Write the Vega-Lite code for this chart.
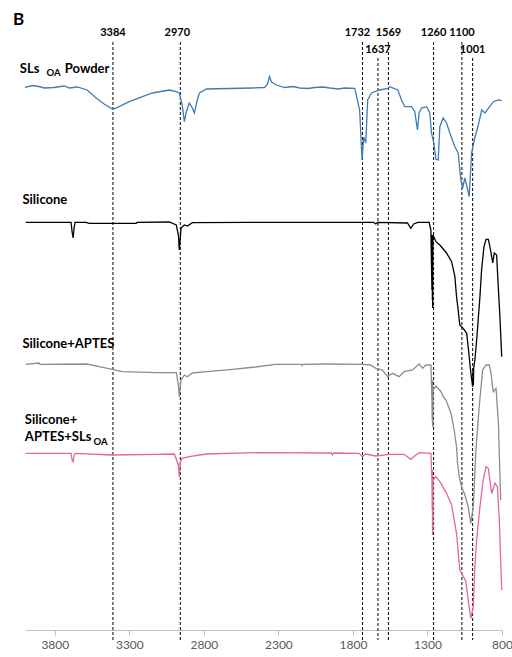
{
 "$schema": "https://vega.github.io/schema/vega-lite/v6.json",
 "width": 477, "height": 630,
 "autosize": {"type": "none"},
 "padding": {"left": 25, "top": 0, "right": 10, "bottom": 27},
 "background": "white",
 "config": {"view": {"stroke": null}, "font": "Lato",
  "axis": {"grid": false, "domainColor": "#bfbfbf", "tickColor": "#bfbfbf", "tickSize": 5, "labelColor": "#595959", "labelFontSize": 12, "labelFont": "Lato", "labelPadding": 4, "labelFlush": false, "labelOverlap": false}},
 "datasets": {
  "spectra": [
   {"series":"SLs OA Powder","wn":4000,"t":542.7},{"series":"SLs OA Powder","wn":3950,"t":544.5},{"series":"SLs OA Powder","wn":3906,"t":543.5},{"series":"SLs OA Powder","wn":3870,"t":542},{"series":"SLs OA Powder","wn":3805,"t":542.5},{"series":"SLs OA Powder","wn":3738,"t":544},{"series":"SLs OA Powder","wn":3700,"t":542},{"series":"SLs OA Powder","wn":3650,"t":543},{"series":"SLs OA Powder","wn":3583,"t":540},{"series":"SLs OA Powder","wn":3523,"t":532},{"series":"SLs OA Powder","wn":3469,"t":526},{"series":"SLs OA Powder","wn":3422,"t":521.7},{"series":"SLs OA Powder","wn":3395,"t":521.5},{"series":"SLs OA Powder","wn":3301,"t":528.3},{"series":"SLs OA Powder","wn":3146,"t":537},{"series":"SLs OA Powder","wn":3032,"t":540},{"series":"SLs OA Powder","wn":2985,"t":538.3},{"series":"SLs OA Powder","wn":2965,"t":537},{"series":"SLs OA Powder","wn":2945,"t":525},{"series":"SLs OA Powder","wn":2931,"t":508.3},{"series":"SLs OA Powder","wn":2918,"t":518},{"series":"SLs OA Powder","wn":2898,"t":527},{"series":"SLs OA Powder","wn":2877,"t":522},{"series":"SLs OA Powder","wn":2864,"t":517},{"series":"SLs OA Powder","wn":2844,"t":530},{"series":"SLs OA Powder","wn":2830,"t":537},{"series":"SLs OA Powder","wn":2783,"t":541},{"series":"SLs OA Powder","wn":2629,"t":541.5},{"series":"SLs OA Powder","wn":2474,"t":542},{"series":"SLs OA Powder","wn":2393,"t":542.5},{"series":"SLs OA Powder","wn":2373,"t":546},{"series":"SLs OA Powder","wn":2360,"t":553.3},{"series":"SLs OA Powder","wn":2346,"t":548},{"series":"SLs OA Powder","wn":2313,"t":545},{"series":"SLs OA Powder","wn":2259,"t":542.5},{"series":"SLs OA Powder","wn":2200,"t":543.5},{"series":"SLs OA Powder","wn":2158,"t":542},{"series":"SLs OA Powder","wn":2100,"t":541.5},{"series":"SLs OA Powder","wn":2057,"t":542.5},{"series":"SLs OA Powder","wn":2000,"t":543},{"series":"SLs OA Powder","wn":1956,"t":542},{"series":"SLs OA Powder","wn":1900,"t":541},{"series":"SLs OA Powder","wn":1855,"t":542},{"series":"SLs OA Powder","wn":1788,"t":541.7},{"series":"SLs OA Powder","wn":1755,"t":520},{"series":"SLs OA Powder","wn":1739,"t":470},{"series":"SLs OA Powder","wn":1728,"t":493},{"series":"SLs OA Powder","wn":1714,"t":487},{"series":"SLs OA Powder","wn":1701,"t":530},{"series":"SLs OA Powder","wn":1676,"t":537},{"series":"SLs OA Powder","wn":1620,"t":540},{"series":"SLs OA Powder","wn":1566,"t":541.7},{"series":"SLs OA Powder","wn":1553,"t":543.3},{"series":"SLs OA Powder","wn":1499,"t":540},{"series":"SLs OA Powder","wn":1474,"t":530},{"series":"SLs OA Powder","wn":1452,"t":523.3},{"series":"SLs OA Powder","wn":1407,"t":523.3},{"series":"SLs OA Powder","wn":1385,"t":518.3},{"series":"SLs OA Powder","wn":1367,"t":500},{"series":"SLs OA Powder","wn":1356,"t":517},{"series":"SLs OA Powder","wn":1340,"t":522},{"series":"SLs OA Powder","wn":1306,"t":523.3},{"series":"SLs OA Powder","wn":1284,"t":517},{"series":"SLs OA Powder","wn":1273,"t":497},{"series":"SLs OA Powder","wn":1257,"t":487},{"series":"SLs OA Powder","wn":1244,"t":471},{"series":"SLs OA Powder","wn":1228,"t":470},{"series":"SLs OA Powder","wn":1217,"t":503.3},{"series":"SLs OA Powder","wn":1195,"t":512},{"series":"SLs OA Powder","wn":1172,"t":507},{"series":"SLs OA Powder","wn":1150,"t":497},{"series":"SLs OA Powder","wn":1116,"t":483.3},{"series":"SLs OA Powder","wn":1094,"t":477},{"series":"SLs OA Powder","wn":1076,"t":450},{"series":"SLs OA Powder","wn":1064,"t":442},{"series":"SLs OA Powder","wn":1049,"t":452},{"series":"SLs OA Powder","wn":1033,"t":442},{"series":"SLs OA Powder","wn":1020,"t":433.3},{"series":"SLs OA Powder","wn":1004,"t":477},{"series":"SLs OA Powder","wn":986,"t":490},{"series":"SLs OA Powder","wn":959,"t":505},{"series":"SLs OA Powder","wn":936,"t":520},{"series":"SLs OA Powder","wn":914,"t":517},{"series":"SLs OA Powder","wn":892,"t":521.7},{"series":"SLs OA Powder","wn":858,"t":528.3},{"series":"SLs OA Powder","wn":825,"t":530},{"series":"SLs OA Powder","wn":802,"t":529.3},

   {"series":"Silicone","wn":3995,"t":407.7},{"series":"Silicone","wn":3771,"t":407.7},{"series":"Silicone","wn":3691,"t":407.7},{"series":"Silicone","wn":3684,"t":398},{"series":"Silicone","wn":3677,"t":392},{"series":"Silicone","wn":3671,"t":402},{"series":"Silicone","wn":3664,"t":407.7},{"series":"Silicone","wn":3590,"t":407.7},{"series":"Silicone","wn":3570,"t":406.7},{"series":"Silicone","wn":3254,"t":406.7},{"series":"Silicone","wn":3247,"t":407.7},{"series":"Silicone","wn":3032,"t":408},{"series":"Silicone","wn":2985,"t":405},{"series":"Silicone","wn":2971,"t":395},{"series":"Silicone","wn":2965,"t":380},{"series":"Silicone","wn":2953,"t":402},{"series":"Silicone","wn":2931,"t":405},{"series":"Silicone","wn":2911,"t":404},{"series":"Silicone","wn":2877,"t":407.3},{"series":"Silicone","wn":2494,"t":407.7},{"series":"Silicone","wn":1661,"t":407.7},{"series":"Silicone","wn":1647,"t":406},{"series":"Silicone","wn":1634,"t":407.7},{"series":"Silicone","wn":1434,"t":407},{"series":"Silicone","wn":1412,"t":401.7},{"series":"Silicone","wn":1392,"t":406},{"series":"Silicone","wn":1365,"t":407.7},{"series":"Silicone","wn":1289,"t":407.7},{"series":"Silicone","wn":1277,"t":400},{"series":"Silicone","wn":1270,"t":340},{"series":"Silicone","wn":1268,"t":395},{"series":"Silicone","wn":1267,"t":330},{"series":"Silicone","wn":1266,"t":390},{"series":"Silicone","wn":1265,"t":322},{"series":"Silicone","wn":1264,"t":388},{"series":"Silicone","wn":1263,"t":395},{"series":"Silicone","wn":1243,"t":388.3},{"series":"Silicone","wn":1217,"t":385},{"series":"Silicone","wn":1172,"t":377},{"series":"Silicone","wn":1138,"t":368.3},{"series":"Silicone","wn":1116,"t":353.3},{"series":"Silicone","wn":1105,"t":333.3},{"series":"Silicone","wn":1094,"t":320},{"series":"Silicone","wn":1083,"t":305},{"series":"Silicone","wn":1060,"t":301.7},{"series":"Silicone","wn":1037,"t":296.7},{"series":"Silicone","wn":1027,"t":283.3},{"series":"Silicone","wn":1009,"t":257},{"series":"Silicone","wn":997,"t":243.3},{"series":"Silicone","wn":994,"t":260},{"series":"Silicone","wn":992,"t":245},{"series":"Silicone","wn":990,"t":262},{"series":"Silicone","wn":982,"t":270},{"series":"Silicone","wn":970,"t":290},{"series":"Silicone","wn":948,"t":333.3},{"series":"Silicone","wn":937,"t":360},{"series":"Silicone","wn":921,"t":383.3},{"series":"Silicone","wn":907,"t":390.7},{"series":"Silicone","wn":892,"t":390.7},{"series":"Silicone","wn":881,"t":383.3},{"series":"Silicone","wn":862,"t":367},{"series":"Silicone","wn":852,"t":377},{"series":"Silicone","wn":836,"t":375},{"series":"Silicone","wn":825,"t":343.3},{"series":"Silicone","wn":814,"t":313.3},{"series":"Silicone","wn":802,"t":273.3},

   {"series":"Silicone+APTES","wn":3995,"t":265.7},{"series":"Silicone+APTES","wn":3906,"t":267},{"series":"Silicone+APTES","wn":3899,"t":265.7},{"series":"Silicone+APTES","wn":3583,"t":266},{"series":"Silicone+APTES","wn":3503,"t":263.3},{"series":"Silicone+APTES","wn":3415,"t":260.7},{"series":"Silicone+APTES","wn":3348,"t":258.3},{"series":"Silicone+APTES","wn":3119,"t":257.3},{"series":"Silicone+APTES","wn":2985,"t":257.3},{"series":"Silicone+APTES","wn":2971,"t":245},{"series":"Silicone+APTES","wn":2965,"t":233.3},{"series":"Silicone+APTES","wn":2953,"t":250},{"series":"Silicone+APTES","wn":2931,"t":255},{"series":"Silicone+APTES","wn":2911,"t":253.3},{"series":"Silicone+APTES","wn":2877,"t":257},{"series":"Silicone+APTES","wn":2783,"t":258.3},{"series":"Silicone+APTES","wn":2608,"t":260.7},{"series":"Silicone+APTES","wn":2454,"t":263},{"series":"Silicone+APTES","wn":2319,"t":265.7},{"series":"Silicone+APTES","wn":2145,"t":265.7},{"series":"Silicone+APTES","wn":2140,"t":264.5},{"series":"Silicone+APTES","wn":2135,"t":265.7},{"series":"Silicone+APTES","wn":1983,"t":266},{"series":"Silicone+APTES","wn":1737,"t":265.7},{"series":"Silicone+APTES","wn":1681,"t":265},{"series":"Silicone+APTES","wn":1647,"t":261.7},{"series":"Silicone+APTES","wn":1602,"t":260},{"series":"Silicone+APTES","wn":1568,"t":253.3},{"series":"Silicone+APTES","wn":1535,"t":256.7},{"series":"Silicone+APTES","wn":1490,"t":253.3},{"series":"Silicone+APTES","wn":1457,"t":258.3},{"series":"Silicone+APTES","wn":1400,"t":260},{"series":"Silicone+APTES","wn":1356,"t":266},{"series":"Silicone+APTES","wn":1333,"t":261.7},{"series":"Silicone+APTES","wn":1311,"t":265},{"series":"Silicone+APTES","wn":1277,"t":265},{"series":"Silicone+APTES","wn":1270,"t":230},{"series":"Silicone+APTES","wn":1268,"t":210},{"series":"Silicone+APTES","wn":1267,"t":250},{"series":"Silicone+APTES","wn":1266,"t":205},{"series":"Silicone+APTES","wn":1265,"t":245},{"series":"Silicone+APTES","wn":1264,"t":203},{"series":"Silicone+APTES","wn":1263,"t":240},{"series":"Silicone+APTES","wn":1243,"t":244},{"series":"Silicone+APTES","wn":1209,"t":238.3},{"series":"Silicone+APTES","wn":1194,"t":233.3},{"series":"Silicone+APTES","wn":1176,"t":230},{"series":"Silicone+APTES","wn":1142,"t":216.7},{"series":"Silicone+APTES","wn":1121,"t":200},{"series":"Silicone+APTES","wn":1105,"t":183.3},{"series":"Silicone+APTES","wn":1098,"t":166.7},{"series":"Silicone+APTES","wn":1087,"t":153.3},{"series":"Silicone+APTES","wn":1071,"t":143.3},{"series":"Silicone+APTES","wn":1049,"t":135},{"series":"Silicone+APTES","wn":1027,"t":123.3},{"series":"Silicone+APTES","wn":1009,"t":106.7},{"series":"Silicone+APTES","wn":993,"t":123.3},{"series":"Silicone+APTES","wn":975,"t":180},{"series":"Silicone+APTES","wn":952,"t":225},{"series":"Silicone+APTES","wn":930,"t":260},{"series":"Silicone+APTES","wn":907,"t":265},{"series":"Silicone+APTES","wn":885,"t":265},{"series":"Silicone+APTES","wn":874,"t":256.7},{"series":"Silicone+APTES","wn":859,"t":238.3},{"series":"Silicone+APTES","wn":840,"t":241.7},{"series":"Silicone+APTES","wn":824,"t":207},{"series":"Silicone+APTES","wn":809,"t":130},

   {"series":"Silicone+APTES+SLs OA","wn":3995,"t":176.7},{"series":"Silicone+APTES+SLs OA","wn":3691,"t":176.7},{"series":"Silicone+APTES+SLs OA","wn":3684,"t":170},{"series":"Silicone+APTES+SLs OA","wn":3677,"t":168.3},{"series":"Silicone+APTES+SLs OA","wn":3671,"t":174},{"series":"Silicone+APTES+SLs OA","wn":3664,"t":176.7},{"series":"Silicone+APTES+SLs OA","wn":3415,"t":175},{"series":"Silicone+APTES+SLs OA","wn":3119,"t":175.7},{"series":"Silicone+APTES+SLs OA","wn":2998,"t":176},{"series":"Silicone+APTES+SLs OA","wn":2971,"t":165},{"series":"Silicone+APTES+SLs OA","wn":2965,"t":153.3},{"series":"Silicone+APTES+SLs OA","wn":2958,"t":168},{"series":"Silicone+APTES+SLs OA","wn":2945,"t":171.7},{"series":"Silicone+APTES+SLs OA","wn":2898,"t":173.3},{"series":"Silicone+APTES+SLs OA","wn":2783,"t":176},{"series":"Silicone+APTES+SLs OA","wn":2454,"t":177.3},{"series":"Silicone+APTES+SLs OA","wn":1945,"t":177},{"series":"Silicone+APTES+SLs OA","wn":1938,"t":175},{"series":"Silicone+APTES+SLs OA","wn":1929,"t":177},{"series":"Silicone+APTES+SLs OA","wn":1759,"t":176.7},{"series":"Silicone+APTES+SLs OA","wn":1737,"t":173.3},{"series":"Silicone+APTES+SLs OA","wn":1714,"t":176},{"series":"Silicone+APTES+SLs OA","wn":1647,"t":174},{"series":"Silicone+APTES+SLs OA","wn":1558,"t":175.7},{"series":"Silicone+APTES+SLs OA","wn":1457,"t":175.7},{"series":"Silicone+APTES+SLs OA","wn":1412,"t":170.7},{"series":"Silicone+APTES+SLs OA","wn":1378,"t":175},{"series":"Silicone+APTES+SLs OA","wn":1352,"t":177.3},{"series":"Silicone+APTES+SLs OA","wn":1277,"t":176.7},{"series":"Silicone+APTES+SLs OA","wn":1270,"t":150},{"series":"Silicone+APTES+SLs OA","wn":1268,"t":120},{"series":"Silicone+APTES+SLs OA","wn":1267,"t":160},{"series":"Silicone+APTES+SLs OA","wn":1266,"t":95},{"series":"Silicone+APTES+SLs OA","wn":1265,"t":140},{"series":"Silicone+APTES+SLs OA","wn":1264,"t":100},{"series":"Silicone+APTES+SLs OA","wn":1263,"t":150},{"series":"Silicone+APTES+SLs OA","wn":1243,"t":153.3},{"series":"Silicone+APTES+SLs OA","wn":1217,"t":148.3},{"series":"Silicone+APTES+SLs OA","wn":1172,"t":136.7},{"series":"Silicone+APTES+SLs OA","wn":1138,"t":125},{"series":"Silicone+APTES+SLs OA","wn":1105,"t":96.7},{"series":"Silicone+APTES+SLs OA","wn":1083,"t":60},{"series":"Silicone+APTES+SLs OA","wn":1064,"t":55},{"series":"Silicone+APTES+SLs OA","wn":1042,"t":48.3},{"series":"Silicone+APTES+SLs OA","wn":1027,"t":30},{"series":"Silicone+APTES+SLs OA","wn":1009,"t":11.7},{"series":"Silicone+APTES+SLs OA","wn":993,"t":23.3},{"series":"Silicone+APTES+SLs OA","wn":982,"t":63.3},{"series":"Silicone+APTES+SLs OA","wn":970,"t":90},{"series":"Silicone+APTES+SLs OA","wn":948,"t":123.3},{"series":"Silicone+APTES+SLs OA","wn":926,"t":150},{"series":"Silicone+APTES+SLs OA","wn":907,"t":163.3},{"series":"Silicone+APTES+SLs OA","wn":892,"t":161.7},{"series":"Silicone+APTES+SLs OA","wn":869,"t":136.7},{"series":"Silicone+APTES+SLs OA","wn":847,"t":146.7},{"series":"Silicone+APTES+SLs OA","wn":831,"t":143.3},{"series":"Silicone+APTES+SLs OA","wn":818,"t":110},{"series":"Silicone+APTES+SLs OA","wn":802,"t":40}
  ],
  "upper": [{"label":"3384","wn":3410},{"label":"2970","wn":2958},{"label":"1732","wn":1736},{"label":"1569","wn":1562},{"label":"1260","wn":1259},{"label":"1100","wn":1069}],
  "lower": [{"label":"1637","wn":1632},{"label":"1001","wn":997}],
  "names": [{"name":"SLs","wn":4035,"t":561},{"name":"Powder","wn":3733,"t":561},{"name":"Silicone","wn":4017,"t":430},{"name":"Silicone+APTES","wn":4017,"t":286},{"name":"Silicone+","wn":4001,"t":210},{"name":"APTES+SLs","wn":4001,"t":193}],
  "subs": [{"name":"OA","wn":3856,"t":557},{"name":"OA","wn":3540,"t":188.5}],
  "panel": [{"name":"B","wn":4080,"t":610}]
 },
 "layer": [
  {"data": {"name": "upper"},
   "mark": {"type": "rule", "strokeDash": [3, 2], "color": "#000000", "strokeWidth": 1},
   "encoding": {
    "x": {"field": "wn", "type": "quantitative", "scale": {"domain": [800, 4000], "reverse": true, "nice": false, "zero": false},
          "axis": {"title": null, "format": "d", "values": [3800, 3300, 2800, 2300, 1800, 1300, 800]}},
    "y": {"datum": 588, "type": "quantitative", "scale": {"domain": [0, 630], "nice": false, "zero": false}, "axis": null},
    "y2": {"datum": -10}}},
  {"data": {"name": "lower"},
   "mark": {"type": "rule", "strokeDash": [3, 2], "color": "#000000", "strokeWidth": 1},
   "encoding": {
    "x": {"field": "wn", "type": "quantitative"},
    "y": {"datum": 572, "type": "quantitative", "axis": null},
    "y2": {"datum": -10}}},
  {"data": {"name": "spectra"},
   "mark": {"type": "line", "strokeWidth": 1.3},
   "encoding": {
    "x": {"field": "wn", "type": "quantitative"},
    "y": {"field": "t", "type": "quantitative", "axis": null},
    "color": {"field": "series", "type": "nominal", "legend": null,
      "scale": {"domain": ["SLs OA Powder", "Silicone", "Silicone+APTES", "Silicone+APTES+SLs OA"], "range": ["#3f7cb6", "#000000", "#8c8c8c", "#e3679d"]}}}},
  {"data": {"name": "upper"},
   "transform": [{"filter": "datum.label !== '1732' && datum.label !== '2970'"}],
   "mark": {"type": "text", "font": "Lato", "fontWeight": "bold", "fontSize": 11, "align": "center", "baseline": "middle", "color": "#000000"},
   "encoding": {"x": {"field": "wn", "type": "quantitative"}, "y": {"datum": 597.5, "type": "quantitative", "axis": null}, "text": {"field": "label"}}},
  {"data": {"name": "upper"},
   "transform": [{"filter": "datum.label === '2970'"}],
   "mark": {"type": "text", "font": "Lato", "fontWeight": "bold", "fontSize": 11, "align": "center", "baseline": "middle", "color": "#000000", "dx": -3},
   "encoding": {"x": {"field": "wn", "type": "quantitative"}, "y": {"datum": 597.5, "type": "quantitative", "axis": null}, "text": {"field": "label"}}},
  {"data": {"name": "upper"},
   "transform": [{"filter": "datum.label === '1732'"}],
   "mark": {"type": "text", "font": "Lato", "fontWeight": "bold", "fontSize": 11, "align": "center", "baseline": "middle", "color": "#000000", "dx": -5},
   "encoding": {"x": {"field": "wn", "type": "quantitative"}, "y": {"datum": 597.5, "type": "quantitative", "axis": null}, "text": {"field": "label"}}},
  {"data": {"name": "lower"},
   "mark": {"type": "text", "font": "Lato", "fontWeight": "bold", "fontSize": 11, "align": "center", "baseline": "middle", "color": "#000000"},
   "encoding": {"x": {"field": "wn", "type": "quantitative"}, "y": {"datum": 580, "type": "quantitative", "axis": null}, "text": {"field": "label"}}},
  {"data": {"name": "names"},
   "mark": {"type": "text", "font": "Lato", "fontWeight": "bold", "fontSize": 13, "align": "left", "baseline": "middle", "color": "#000000"},
   "encoding": {"x": {"field": "wn", "type": "quantitative"}, "y": {"field": "t", "type": "quantitative", "axis": null}, "text": {"field": "name"}}},
  {"data": {"name": "subs"},
   "mark": {"type": "text", "font": "Lato", "fontWeight": "bold", "fontSize": 9.5, "align": "left", "baseline": "middle", "color": "#000000"},
   "encoding": {"x": {"field": "wn", "type": "quantitative"}, "y": {"field": "t", "type": "quantitative", "axis": null}, "text": {"field": "name"}}},
  {"data": {"name": "panel"},
   "mark": {"type": "text", "font": "Lato", "fontWeight": "bold", "fontSize": 17, "align": "left", "baseline": "middle", "color": "#000000"},
   "encoding": {"x": {"field": "wn", "type": "quantitative"}, "y": {"field": "t", "type": "quantitative", "axis": null}, "text": {"field": "name"}}}
 ]
}
